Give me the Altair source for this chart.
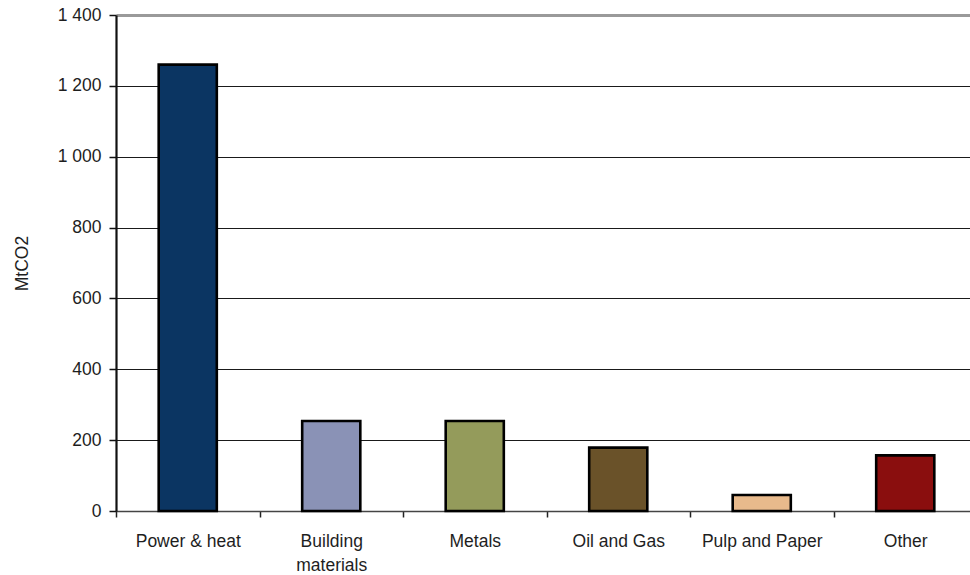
import altair as alt
import pandas as pd

# Emissions by sector (MtCO2)
sectors = ["Power & heat", "Building materials", "Metals", "Oil and Gas", "Pulp and Paper", "Other"]
emissions = [1260, 254, 254, 179, 45, 157]
colors = ["#0B3562", "#8A92B6", "#949B5B", "#6A5229", "#E8BA8C", "#8A0E0E"]

df = pd.DataFrame({"sector": sectors, "value": emissions, "color": colors})

FONT = "Liberation Sans"
TEXT = "#1e1e1e"

bars = (
    alt.Chart(df)
    .mark_bar(stroke="black", strokeWidth=2.6, width=alt.RelativeBandSize(0.405))
    .encode(
        x=alt.X(
            "sector:N",
            sort=sectors,
            scale=alt.Scale(paddingInner=0, paddingOuter=0),
            axis=alt.Axis(
                title=None,
                labelAngle=0,
                labelFont=FONT,
                labelFontSize=17.5,
                labelColor=TEXT,
                labelPadding=15,
                labelLineHeight=24,
                labelBaseline="top",
                labelExpr="datum.label == 'Building materials' ? ['Building', 'materials'] : datum.label",
                tickBand="extent",
                tickSize=6,
                tickColor="#222",
                tickWidth=1.5,
                domainColor="#444",
                domainWidth=1.5,
                grid=False,
            ),
        ),
        y=alt.Y(
            "value:Q",
            scale=alt.Scale(domain=[0, 1400], nice=False),
            axis=alt.Axis(
                title="MtCO2",
                titleFont=FONT,
                titleFontSize=17.5,
                titleFontWeight="normal",
                titleColor=TEXT,
                titlePadding=26,
                values=[0, 200, 400, 600, 800, 1000, 1200, 1400],
                labelExpr="replace(format(datum.value, ','), ',', ' ')",
                labelFont=FONT,
                labelFontSize=17.5,
                labelColor=TEXT,
                labelPadding=8,
                tickSize=7,
                tickColor="#111",
                tickWidth=1.5,
                domainColor="#111",
                domainWidth=2.2,
                grid=True,
                gridColor=alt.condition(alt.datum.value == 1400, alt.value("#9a9a9a"), alt.value("#1a1a1a")),
                gridWidth=alt.condition(alt.datum.value == 1400, alt.value(3), alt.value(1.1)),
            ),
        ),
        fill=alt.Fill("color:N", scale=None, legend=None),
    )
)

chart = (
    bars.properties(
        width=861,
        height=496,
        autosize=alt.AutoSizeParams(type="none"),
        padding={"left": 116, "top": 15, "right": -7, "bottom": 64},
        background="white",
    )
    .configure_view(stroke=None)
)

chart.save("out.html", embed_options={"renderer": "svg", "actions": False})
